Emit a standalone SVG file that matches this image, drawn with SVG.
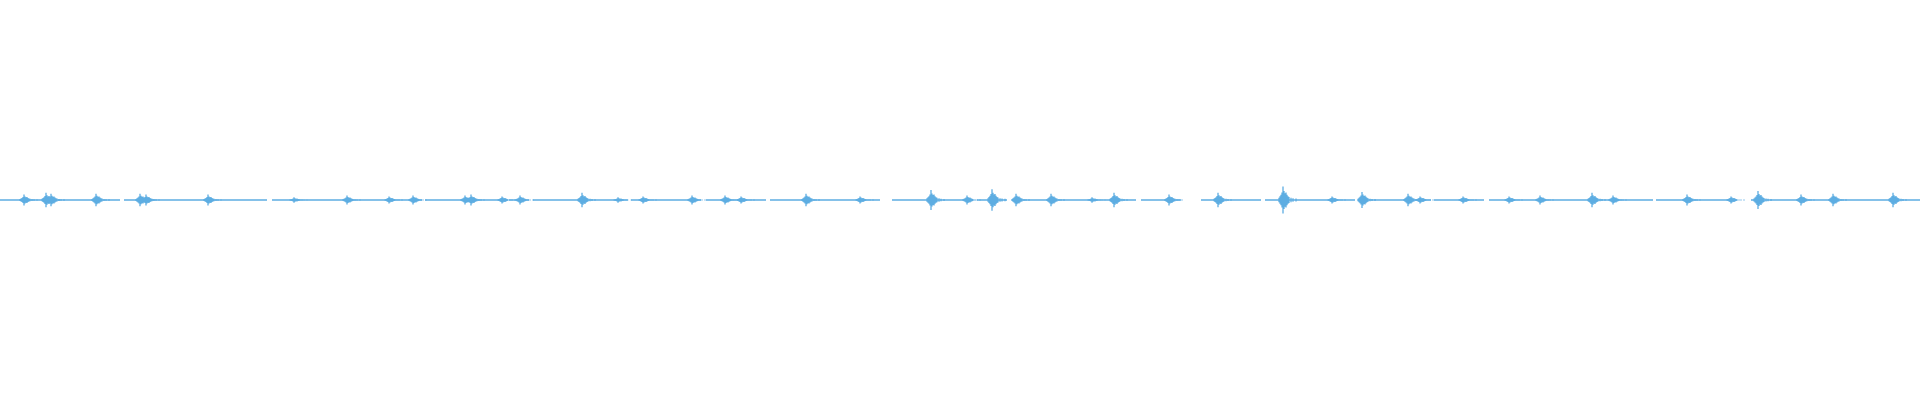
<svg xmlns="http://www.w3.org/2000/svg" width="1920" height="400" viewBox="0 0 1920 400">
<defs>
<style>.w{stroke:#5dade2;fill:none}.b{stroke-width:1.3}</style>
<path id="b" class="w b" d="M-4,-1.5V1.5M-3,-2.5V2.5M-2,-3.5V3.5M-1,-5V5M0,-9V9M1,-6V6M2,-4.5V4.5M3,-5V5M4,-3.5V3.5M5,-2.5V2.5M6,-2V2M8,-1.5V1.5M10,-1.2V1.2M13,-1V1"/>
</defs>
<rect width="1920" height="400" fill="#fff"/>
<g id="baseline">
<path class="w" stroke-width="1.6" stroke-dasharray="120 4 80 3 60 5 150 3 40 6 30 8 20 4 95 3 70 5 60 4 110 12 80 5 30 9 120 5 40 20 60 4 90 6 70 3 50 5 100 4 60 3 80 15 200" d="M0,200H1920"/>
</g>
<g id="bursts">
<use href="#b" transform="translate(24,200) scale(1,0.6)"/>
<use href="#b" transform="translate(46,200) scale(1,0.8)"/>
<use href="#b" transform="translate(51,200) scale(1,0.7)"/>
<use href="#b" transform="translate(96,200) scale(1,0.7)"/>
<use href="#b" transform="translate(140,200) scale(1,0.7)"/>
<use href="#b" transform="translate(146,200) scale(1,0.6)"/>
<use href="#b" transform="translate(208,200) scale(1,0.6)"/>
<use href="#b" transform="translate(294,200) scale(1,0.3)"/>
<use href="#b" transform="translate(347,200) scale(1,0.5)"/>
<use href="#b" transform="translate(389,200) scale(1,0.4)"/>
<use href="#b" transform="translate(413,200) scale(1,0.5)"/>
<use href="#b" transform="translate(465,200) scale(1,0.5)"/>
<use href="#b" transform="translate(471,200) scale(1,0.6)"/>
<use href="#b" transform="translate(502,200) scale(1,0.4)"/>
<use href="#b" transform="translate(520,200) scale(1,0.5)"/>
<use href="#b" transform="translate(582,200) scale(1,0.8)"/>
<use href="#b" transform="translate(618,200) scale(1,0.3)"/>
<use href="#b" transform="translate(643,200) scale(1,0.4)"/>
<use href="#b" transform="translate(692,200) scale(1,0.5)"/>
<use href="#b" transform="translate(725,200) scale(1,0.5)"/>
<use href="#b" transform="translate(741,200) scale(1,0.4)"/>
<use href="#b" transform="translate(806,200) scale(1,0.7)"/>
<use href="#b" transform="translate(860,200) scale(1,0.4)"/>
<use href="#b" transform="translate(931,200) scale(1,1.1)"/>
<use href="#b" transform="translate(967,200) scale(1,0.5)"/>
<use href="#b" transform="translate(992,200) scale(1,1.2)"/>
<use href="#b" transform="translate(1016,200) scale(1,0.7)"/>
<use href="#b" transform="translate(1051,200) scale(1,0.7)"/>
<use href="#b" transform="translate(1092,200) scale(1,0.3)"/>
<use href="#b" transform="translate(1114,200) scale(1,0.8)"/>
<use href="#b" transform="translate(1169,200) scale(1,0.6)"/>
<use href="#b" transform="translate(1218,200) scale(1,0.8)"/>
<use href="#b" transform="translate(1283,200) scale(1,1.5)"/>
<use href="#b" transform="translate(1332,200) scale(1,0.4)"/>
<use href="#b" transform="translate(1362,200) scale(1,0.9)"/>
<use href="#b" transform="translate(1408,200) scale(1,0.7)"/>
<use href="#b" transform="translate(1420,200) scale(1,0.4)"/>
<use href="#b" transform="translate(1463,200) scale(1,0.4)"/>
<use href="#b" transform="translate(1509,200) scale(1,0.4)"/>
<use href="#b" transform="translate(1540,200) scale(1,0.5)"/>
<use href="#b" transform="translate(1592,200) scale(1,0.8)"/>
<use href="#b" transform="translate(1613,200) scale(1,0.5)"/>
<use href="#b" transform="translate(1687,200) scale(1,0.6)"/>
<use href="#b" transform="translate(1731,200) scale(1,0.4)"/>
<use href="#b" transform="translate(1758,200) scale(1,1)"/>
<use href="#b" transform="translate(1801,200) scale(1,0.6)"/>
<use href="#b" transform="translate(1833,200) scale(1,0.7)"/>
<use href="#b" transform="translate(1893,200) scale(1,0.8)"/>
</g>
</svg>
